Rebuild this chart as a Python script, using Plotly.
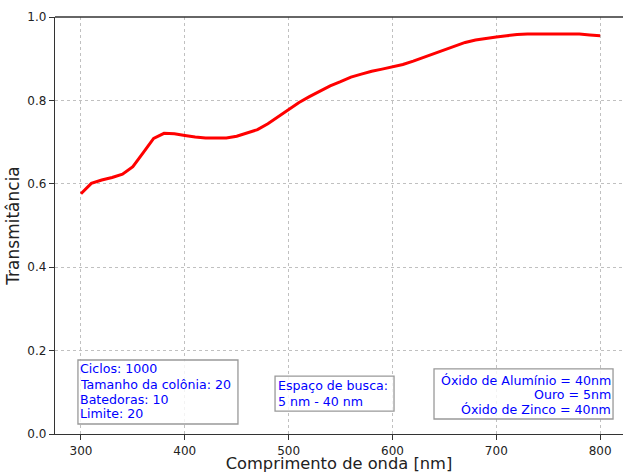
import plotly.graph_objects as go

wavelength = list(range(300, 801, 10))
transmitance = [0.576, 0.601, 0.609, 0.615, 0.623, 0.641, 0.675, 0.709, 0.721, 0.720,
                0.716, 0.712, 0.710, 0.710, 0.710, 0.714, 0.722, 0.730, 0.744, 0.761,
                0.778, 0.795, 0.809, 0.822, 0.835, 0.845, 0.856, 0.863, 0.870, 0.875,
                0.880, 0.886, 0.894, 0.903, 0.913, 0.922, 0.931, 0.939, 0.945, 0.949,
                0.952, 0.955, 0.958, 0.959, 0.959, 0.960, 0.960, 0.960, 0.959, 0.957,
                0.955]

box_params = ["Ciclos: 1000", "Tamanho da colônia: 20", "Batedoras: 10", "Limite: 20"]
box_space = ["Espaço de busca:", "5 nm - 40 nm"]
box_layers = ["Óxido de Alumínio = 40nm", "Ouro = 5nm", "Óxido de Zinco = 40nm"]

FONT = "DejaVu Sans"

fig = go.Figure()
fig.add_trace(go.Scatter(x=wavelength, y=transmitance, mode="lines",
                         line=dict(color="red", width=3), showlegend=False))


def text_box(lines, x_text, y_lines, anchor, rect):
    x0, x1, y0, y1 = rect
    fig.add_shape(type="rect", xref="x", yref="y", x0=x0, x1=x1, y0=y0, y1=y1,
                  line=dict(color="#999999", width=1.3),
                  fillcolor="rgba(255,255,255,0.8)", layer="above")
    for txt, yy in zip(lines, y_lines):
        fig.add_annotation(x=x_text, y=yy, text=txt, xref="x", yref="y",
                           showarrow=False, xanchor=anchor, yanchor="middle",
                           borderpad=0,
                           font=dict(family=FONT, size=12.6, color="blue"))


text_box(box_params, 298.2, [0.1559, 0.1199, 0.0839, 0.048], "left",
         (297.1, 451.2, 0.024, 0.1775))
text_box(box_space, 488.9, [0.1175, 0.079], "left",
         (486.9, 601.5, 0.055, 0.139))
text_box(box_layers, 811.0, [0.1295, 0.094, 0.058], "right",
         (640.0, 812.4, 0.036, 0.156))

axis_common = dict(showgrid=True, gridcolor="#c0c0c0", griddash="dot", gridwidth=0.8,
                   showline=True, linecolor="#333333", linewidth=1.3,
                   ticks="outside", ticklen=5, tickcolor="#333333",
                   tickfont=dict(family=FONT, size=12, color="#222222"),
                   zeroline=False, automargin=False)
fig.update_xaxes(range=[275, 822], tickvals=[300, 400, 500, 600, 700, 800],
                 title=dict(text="Comprimento de onda [nm]",
                            font=dict(family=FONT, size=16.3, color="#222222"), standoff=5),
                 **axis_common)
fig.update_yaxes(range=[0, 1], tickvals=[0, 0.2, 0.4, 0.6, 0.8, 1.0],
                 tickformat=".1f",
                 title=dict(text="Transmitância",
                            font=dict(family=FONT, size=17, color="#222222"), standoff=3),
                 **axis_common)
fig.add_shape(type="line", xref="paper", yref="paper", x0=0, x1=1, y0=1, y1=1,
              line=dict(color="#333333", width=1.3))

fig.update_layout(width=624, height=473, margin=dict(l=55, r=1, t=17, b=39),
                  paper_bgcolor="white", plot_bgcolor="white",
                  font=dict(family=FONT))
fig.write_html("out.html")
